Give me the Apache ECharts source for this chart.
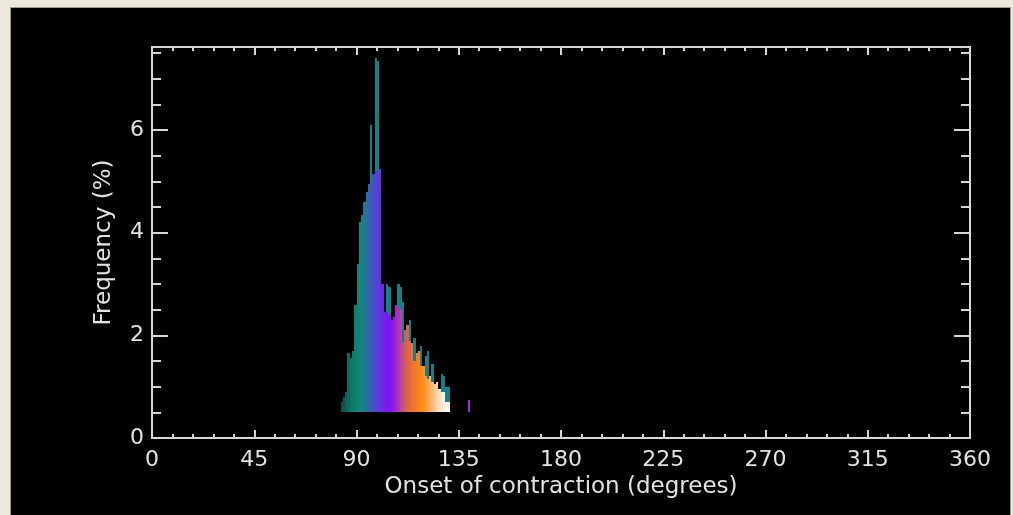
<!DOCTYPE html>
<html>
<head>
<meta charset="utf-8">
<title>Onset of contraction</title>
<script src="https://cdn.jsdelivr.net/npm/echarts@6/dist/echarts.min.js"></script>
<style>
  html, body { margin: 0; padding: 0; width: 1013px; height: 515px; overflow: hidden; background: #ece9d8; }
  #frame { position: absolute; left: 10px; top: 7px; width: 999px; height: 520px; background: #000; border: 1px solid #9c9a90; }
  #main { position: absolute; left: 0; top: 0; width: 999px; height: 507px; }
</style>
</head>
<body>
<div id="frame"><div id="main"></div></div>
<script>
// histogram bins (degrees, 1 degree wide)
var binStart = [83, 84, 85, 86, 87, 88, 89, 90, 91, 92, 93, 94, 95, 96, 97, 98, 99, 100,
  101, 102, 103, 104, 105, 106, 107, 108, 109, 110, 111, 112, 113, 114, 115, 116, 117, 118,
  119, 120, 121, 122, 123, 124, 125, 126, 127, 128, 129, 130, 139];
// full bar height (%), the teal tips
var freqTotal = [0.70, 0.80, 0.90, 1.65, 1.55, 1.70, 2.60, 3.40, 4.20, 4.35, 4.60, 4.80, 4.95, 6.10, 5.15, 7.40, 7.35, 5.25,
  3.00, 2.45, 3.00, 2.95, 2.30, 2.35, 2.60, 3.00, 2.95, 2.65, 2.10, 2.20, 2.30, 1.85, 1.95, 1.65, 1.70, 1.80,
  1.40, 1.60, 1.70, 1.20, 1.45, 1.05, 1.10, 0.95, 1.25, 1.20, 1.00, 1.00, 0.75];
// coloured part of each bar (%)
var freqColored = [0.70, 0.80, 0.90, 1.65, 1.55, 1.70, 2.60, 3.40, 4.20, 4.35, 4.60, 4.80, 4.95, 5.00, 5.15, 5.20, 5.20, 5.25,
  3.00, 2.45, 2.45, 2.40, 2.30, 2.35, 2.60, 2.55, 2.50, 1.85, 2.10, 2.20, 1.90, 1.85, 1.50, 1.65, 1.70, 1.40,
  1.40, 1.20, 1.15, 1.20, 1.10, 1.05, 1.10, 0.95, 0.90, 0.90, 0.70, 0.70, 0.75];
var xTicks = [0, 45, 90, 135, 180, 225, 270, 315, 360];
var yTicks = [0, 2, 4, 6];

var barFloor = 0.5;
var binWidth = 1;
var yTop = 7.62;
var axisColor = '#d6d6d6';
var textColor = '#e2e2e2';
var font = 'DejaVu Sans';
var spikeColor = '#16808a';

// colour along the angle axis
var colorStops = [
  [83, [10, 74, 66]], [88, [14, 122, 108]], [92, [20, 138, 124]], [95, [46, 106, 166]],
  [98, [74, 76, 208]], [101, [106, 46, 230]], [104, [128, 16, 244]], [107, [148, 32, 224]],
  [110, [194, 77, 134]], [113, [224, 104, 62]], [116, [245, 122, 34]], [119, [255, 140, 24]],
  [122, [255, 168, 80]], [125, [255, 208, 160]], [128, [255, 238, 221]], [131, [255, 246, 238]],
  [137, [168, 40, 216]], [140, [168, 40, 216]]
];
function colorAt(d) {
  for (var i = 0; i < colorStops.length - 1; i++) {
    var a = colorStops[i], b = colorStops[i + 1];
    if (d >= a[0] && d <= b[0]) {
      var t = (d - a[0]) / (b[0] - a[0]);
      var c = a[1].map(function (v, k) { return Math.round(v + (b[1][k] - v) * t); });
      return 'rgb(' + c.join(',') + ')';
    }
  }
  return 'rgb(' + colorStops[colorStops.length - 1][1].join(',') + ')';
}

var data = binStart.map(function (b, i) { return [b, freqTotal[i], freqColored[i]]; });

var lineStyle = { color: axisColor, width: 2 };
function xAxisOf(grid, pos, showLabel) {
  return {
    type: 'value', gridIndex: grid, position: pos,
    min: xTicks[0], max: xTicks[xTicks.length - 1], interval: xTicks[1] - xTicks[0],
    axisLine: { onZero: false, lineStyle: lineStyle },
    axisTick: { inside: true, length: 8, lineStyle: lineStyle },
    minorTick: { show: true, splitNumber: 5, length: 4, lineStyle: lineStyle },
    splitLine: { show: false },
    axisLabel: { show: showLabel, color: textColor, fontFamily: font, fontSize: 22, margin: 11 },
    name: showLabel ? 'Onset of contraction (degrees)' : '',
    nameLocation: 'middle', nameGap: 36,
    nameTextStyle: { color: textColor, fontFamily: font, fontSize: 23 }
  };
}
function yAxisOf(grid, pos, step, len, showLabel) {
  return {
    type: 'value', gridIndex: grid, position: pos,
    min: 0, max: yTop, interval: step,
    axisLine: { onZero: false, lineStyle: lineStyle },
    axisTick: { inside: true, length: len, lineStyle: lineStyle },
    splitLine: { show: false },
    axisLabel: {
      show: showLabel, color: textColor, fontFamily: font, fontSize: 22, margin: 8,
      formatter: function (v) { return yTicks.indexOf(v) >= 0 ? String(v) : ''; }
    },
    name: showLabel ? 'Frequency (%)' : '',
    nameLocation: 'middle', nameGap: 36,
    nameTextStyle: { color: textColor, fontFamily: font, fontSize: 23 }
  };
}

var chart = echarts.init(document.getElementById('main'));
chart.setOption({
  backgroundColor: '#000',
  animation: false,
  grid: [
    { left: 141, right: 40, top: 39, bottom: 77 },
    { left: 141, right: 40, top: 39, bottom: 77 }
  ],
  xAxis: [xAxisOf(0, 'bottom', true), xAxisOf(1, 'top', false)],
  yAxis: [
    yAxisOf(0, 'left', 0.5, 9, true),
    yAxisOf(0, 'right', 0.5, 9, false),
    yAxisOf(1, 'left', 2, 16, false),
    yAxisOf(1, 'right', 2, 16, false)
  ],
  series: [{
    type: 'custom',
    xAxisIndex: 0, yAxisIndex: 0,
    data: data,
    encode: { x: 0, y: 1 },
    renderItem: function (params, api) {
      var x0 = api.value(0);
      var base = api.coord([x0, barFloor]);
      var top = api.coord([x0 + binWidth, api.value(1)]);
      var mid = api.coord([x0 + binWidth, api.value(2)]);
      // snap to whole pixels so neighbouring bars meet without seams
      var left = Math.round(base[0]);
      var w = Math.max(2, Math.round(top[0]) - left);
      var yb = Math.round(base[1]);
      var yt = Math.round(top[1]);
      var ym = Math.round(mid[1]);
      var fill = colorAt(x0 + binWidth / 2);
      return {
        type: 'group',
        children: [
          { type: 'rect', shape: { x: left, y: yt, width: w, height: yb - yt },
            style: { fill: spikeColor } },
          { type: 'rect', shape: { x: left, y: ym, width: w, height: yb - ym },
            style: { fill: fill } }
        ]
      };
    }
  }]
});
</script>
</body>
</html>
